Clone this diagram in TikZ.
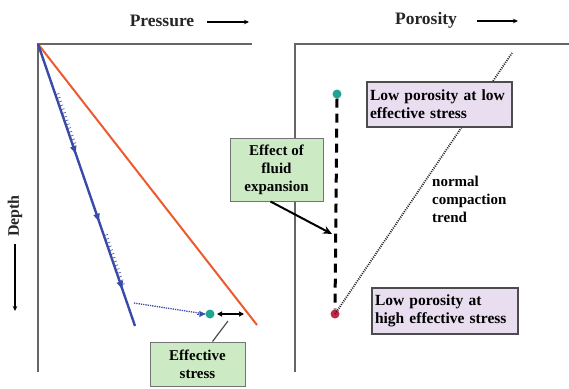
\documentclass[tikz,border=0pt]{standalone}
\usepackage{fontspec}
\setmainfont{Liberation Serif}
\usetikzlibrary{arrows.meta,decorations.markings}
\definecolor{boxgreen}{HTML}{CCEBC4}
\definecolor{boxpink}{HTML}{E9DDF0}
\definecolor{tealdot}{HTML}{1FA590}
\definecolor{reddot}{HTML}{C02848}
\definecolor{redline}{HTML}{EC5A2E}
\definecolor{blueline}{HTML}{3A4AA8}
\begin{document}
\begin{tikzpicture}[x=1pt,y=-1pt,
  axis/.style={draw=black!60, line width=1.3pt},
  lbl/.style={font=\fontsize{17.5}{20}\selectfont\bfseries, inner sep=0pt, text=black!85},
  smallarrow/.style={line width=1.1pt, -{Stealth[length=5pt,width=4.5pt]}},
  greenbox/.style={draw=black!55, fill=boxgreen, line width=1pt, align=center,
    font=\fontsize{15}{18}\selectfont\bfseries, inner sep=2pt},
  pinkbox/.style={draw=black!70, fill=boxpink, line width=1.3pt, align=left,
    font=\fontsize{15.5}{18}\selectfont\bfseries, inner sep=3pt},
  dotnode/.style={circle, inner sep=0pt, minimum size=9pt},
  plain/.style={font=\fontsize{15}{18}\selectfont\bfseries, align=left, inner sep=0pt}
]
\useasboundingbox (0,0) rectangle (569,388);

% ---------- left panel ----------
\coordinate (O1) at (38,44);
\coordinate (X1) at (252,44);
\coordinate (Y1) at (38,372);
\draw[axis] (X1) -- (O1) -- (Y1);

\node[lbl] (press) at (162,21) {Pressure};
\coordinate (pa1) at (207,22);
\coordinate (pa2) at (249,22);
\draw[smallarrow] (pa1) -- (pa2);

\node[lbl, rotate=90, font=\fontsize{16}{18}\selectfont\bfseries] (depth) at (15,216) {Depth};
\coordinate (da1) at (15,244);
\coordinate (da2) at (15,311);
\draw[smallarrow] (da1) -- (da2);

% red line
\coordinate (R1) at (257,325);
\draw[redline, line width=2pt] (O1) -- (R1);

% blue pressure line with hatching and arrowheads
\coordinate (B1) at (135,326);
\draw[blueline, line width=2.4pt,
  postaction={decorate, decoration={markings,
    mark=between positions 0.18 and 0.36 step 4pt with {\draw[blueline, line width=0.6pt] (0,0) -- (0,4pt);},
    mark=between positions 0.68 and 0.86 step 4pt with {\draw[blueline, line width=0.6pt] (0,0) -- (0,4pt);},
    mark=at position 0.39 with {\arrow[blueline]{Triangle[length=8pt,width=6pt]}},
    mark=at position 0.63 with {\arrow[blueline]{Triangle[length=8pt,width=6pt]}},
    mark=at position 0.87 with {\arrow[blueline]{Triangle[length=8pt,width=6pt]}}
  }}] (O1) -- (B1);

% dotted blue to teal dot
\coordinate (D1) at (134,303);
\node[dotnode, fill=tealdot] (tealL) at (210,314) {};
\draw[blueline, line width=1.3pt, densely dotted] (D1) -- (tealL.west);
\draw[blueline, -{Triangle[length=6pt,width=6pt]}] ([xshift=-8pt]tealL.west) -- (tealL.west);

% effective stress double arrow
\coordinate (es1) at (217,314);
\coordinate (es2) at (244,314);
\draw[line width=1.2pt, {Triangle[length=5pt,width=5pt]}-{Triangle[length=5pt,width=5pt]}] (es1) -- (es2);

\node[greenbox, minimum width=95pt, minimum height=44pt] (eff) at (197.5,364) {Effective\\stress};
\coordinate (effpt) at (228,321);
\draw[black!70, line width=1.2pt] ([xshift=15pt]eff.north) -- (effpt);

% ---------- right panel ----------
\coordinate (O2) at (295,44);
\coordinate (X2) at (569,44);
\coordinate (Y2) at (295,372);
\draw[axis] (X2) -- (O2) -- (Y2);

\node[lbl] (poro) at (426,20) {Porosity};
\coordinate (qa1) at (477,21);
\coordinate (qa2) at (518,21);
\draw[smallarrow] (qa1) -- (qa2);

% trend line
\coordinate (T2) at (512,53);
\node[dotnode, fill=reddot] (redR) at (335,314) {};
\node[dotnode, fill=tealdot] (tealR) at (337,94) {};
\draw[black!85, line width=1.8pt, dash pattern=on 1pt off 1.2pt] (redR.center) -- (T2);
\draw[black, line width=3pt, dash pattern=on 9pt off 6pt] (tealR.south) -- (redR.north);

\node[pinkbox, minimum width=145pt, minimum height=45pt, text width=139pt] (lp1) at (439.5,104.5)
  {Low porosity at low\\effective stress};
\node[pinkbox, minimum width=146pt, minimum height=46pt, text width=140pt] (lp2) at (445,311)
  {Low porosity at\\high effective stress};

\node[plain, anchor=north west] (nct) at (432,176) {normal\\compaction\\trend};

\node[greenbox, minimum width=93pt, minimum height=63pt] (fe) at (276.5,169.5) {Effect of\\fluid\\expansion};
\coordinate (fetip) at (332,234);
\draw[line width=2pt, -{Stealth[length=9pt,width=8pt]}] ([xshift=-6pt]fe.south) -- (fetip);
\end{tikzpicture}
\end{document}
